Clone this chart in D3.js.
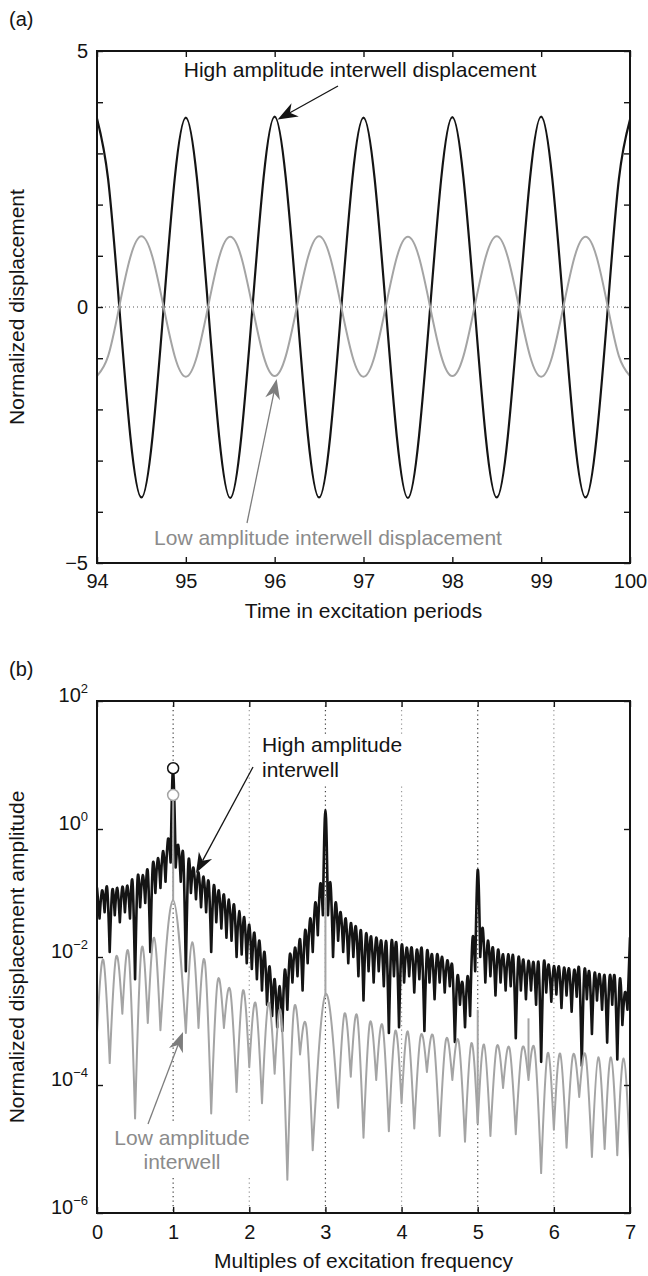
<!DOCTYPE html>
<html>
<head>
<meta charset="utf-8">
<script src="https://cdn.jsdelivr.net/npm/d3@7"></script>
<style>
  body { margin: 0; background: #fff; }
  svg { font-family: "Liberation Sans", Arial, Helvetica, sans-serif; }
</style>
</head>
<body>
<div id="chart"></div>
<script>
// ---------- panel (a): time histories ----------
const timeTicks = [94, 95, 96, 97, 98, 99, 100];
const dispTicks = [-5, -4, -3, -2, -1, 0, 1, 2, 3, 4, 5];
const dispLabelled = [-5, 0, 5];

const timeSamples = [
  94, 94.125, 94.25, 94.375, 94.5, 94.625, 94.75, 94.875,
  95, 95.125, 95.25, 95.375, 95.5, 95.625, 95.75, 95.875,
  96, 96.125, 96.25, 96.375, 96.5, 96.625, 96.75, 96.875,
  97, 97.125, 97.25, 97.375, 97.5, 97.625, 97.75, 97.875,
  98, 98.125, 98.25, 98.375, 98.5, 98.625, 98.75, 98.875,
  99, 99.125, 99.25, 99.375, 99.5, 99.625, 99.75, 99.875,
  100
];
const highDisp = [
  3.68, 2.50, 0.02, -2.52, -3.72, -2.53, -0.02, 2.51,
  3.70, 2.51, 0.01, -2.53, -3.73, -2.52, -0.01, 2.52,
  3.72, 2.52, 0.02, -2.52, -3.72, -2.53, -0.02, 2.51,
  3.70, 2.51, 0.01, -2.53, -3.73, -2.52, -0.02, 2.51,
  3.71, 2.52, 0.02, -2.52, -3.72, -2.52, -0.01, 2.52,
  3.72, 2.51, 0.01, -2.53, -3.72, -2.53, -0.02, 2.50,
  3.66
];
const lowDisp = [
  -1.35, -0.96, 0.00, 0.97, 1.38, 0.97, 0.00, -0.96,
  -1.36, -0.96, 0.00, 0.97, 1.37, 0.97, 0.00, -0.96,
  -1.35, -0.96, 0.00, 0.97, 1.38, 0.97, 0.00, -0.96,
  -1.36, -0.96, 0.00, 0.97, 1.37, 0.97, 0.00, -0.96,
  -1.35, -0.96, 0.00, 0.97, 1.38, 0.97, 0.00, -0.96,
  -1.36, -0.96, 0.00, 0.97, 1.37, 0.97, 0.00, -0.96,
  -1.35
];

// ---------- panel (b): spectra ----------
const freqTicks = [0, 1, 2, 3, 4, 5, 6, 7];
const freqGrid = [1, 2, 3, 4, 5, 6];
const ampExponents = [2, 0, -2, -4, -6];

// high amplitude spectrum: lobe peaks at bins of 1/15, nulls half-way between
const highBin = 1 / 15;
const highPeaks = [
  0.12, 0.11, 0.12, 0.11, 0.12, 0.125, 0.13, 0.15, 0.17, 0.19,
  0.22, 0.28, 0.35, 0.45, 0.7, 8.9, 0.56, 0.38, 0.30, 0.25,
  0.21, 0.18, 0.15, 0.13, 0.11, 0.095, 0.079, 0.066, 0.052, 0.042,
  0.032, 0.024, 0.018, 0.012, 0.0071, 0.0045, 0.0035, 0.0063, 0.011, 0.014,
  0.019, 0.026, 0.04, 0.071, 0.14, 2.0, 0.14, 0.071, 0.05, 0.04,
  0.034, 0.03, 0.026, 0.023, 0.021, 0.02, 0.018, 0.017, 0.017, 0.016,
  0.015, 0.014, 0.014, 0.013, 0.013, 0.012, 0.011, 0.011, 0.010, 0.0089,
  0.0071, 0.005, 0.004, 0.005, 0.02, 0.23, 0.028, 0.018, 0.014, 0.013,
  0.011, 0.011, 0.010, 0.0095, 0.0091, 0.0087, 0.0083, 0.0079, 0.0078, 0.0076,
  0.0072, 0.0071, 0.0068, 0.0066, 0.0063, 0.0062, 0.0059, 0.0058, 0.0055, 0.0054,
  0.0051, 0.005, 0.0048, 0.0045, 0.0028, 0.02
];
const highNulls = [
  0.04, 0.05, 0.012, 0.045, 0.035, 0.05, 0.04, 0.0045, 0.06, 0.07,
  0.012, 0.1, 0.12, 0.15, 0.3, 0.25, 0.15, 0.006, 0.1, 0.08,
  0.06, 0.05, 0.012, 0.035, 0.028, 0.02, 0.018, 0.01, 0.011, 0.008,
  0.0065, 0.0045, 0.003, 0.0018, 0.0012, 0.0008, 0.0007, 0.0015, 0.004, 0.005,
  0.003, 0.008, 0.012, 0.022, 0.045, 0.045, 0.01, 0.018, 0.012, 0.008,
  0.01, 0.005, 0.0021, 0.006, 0.004, 0.006, 0.0035, 0.00065, 0.005, 0.0008,
  0.004, 0.005, 0.0028, 0.0045, 0.0007, 0.004, 0.0022, 0.004, 0.0028, 0.0035,
  0.00047, 0.0018, 0.0008, 0.0012, 0.006, 0.01, 0.004, 0.005, 0.0025, 0.004,
  0.003, 0.0035, 0.00054, 0.003, 0.0022, 0.003, 0.0018, 0.00023, 0.0028, 0.002,
  0.0026, 0.0016, 0.0025, 0.0014, 0.0024, 0.0002, 0.0022, 0.00063, 0.0021, 0.0015,
  0.00046, 0.0018, 0.00025, 0.00087, 0.0015
];

// low amplitude spectrum: nulls and the lobe peaks between them
const lowNullFreq = [
  0, 0.167, 0.333, 0.5, 0.667, 0.833, 1.167, 1.333, 1.5, 1.667,
  1.833, 2, 2.167, 2.333, 2.5, 2.667, 2.833, 3.167, 3.333, 3.5,
  3.667, 3.833, 4, 4.167, 4.333, 4.5, 4.667, 4.833, 5, 5.167,
  5.333, 5.5, 5.667, 5.833, 6, 6.167, 6.333, 6.5, 6.667, 6.833, 7
];
const lowNulls = [
  6.5e-4, 2.2e-4, 1.3e-3, 3e-5, 9.3e-4, 7.2e-4, 6.5e-4, 7.8e-4, 3.6e-5, 7.8e-4,
  7.8e-5, 1.9e-4, 5.2e-5, 1.5e-4, 3.3e-6, 3e-4, 9.6e-6, 4.4e-5, 1.35e-4, 1.5e-5,
  1.2e-4, 1.9e-5, 5.2e-5, 2.1e-5, 1.6e-4, 1.6e-5, 1.2e-4, 1.3e-5, 2.5e-5, 1.6e-5,
  9e-5, 1.7e-5, 1.2e-4, 4.2e-6, 2e-5, 1.05e-5, 6.5e-5, 7.5e-6, 1e-5, 8e-6, 6.8e-6
];
const lowPeakFreq = [
  0.083, 0.25, 0.417, 0.583, 0.75, 1, 1.25, 1.417, 1.583, 1.75,
  1.917, 2.083, 2.25, 2.417, 2.583, 2.75, 3, 3.25, 3.417, 3.583,
  3.75, 3.917, 4.083, 4.25, 4.417, 4.583, 4.75, 4.917, 5.083, 5.25,
  5.417, 5.583, 5.75, 5.917, 6.083, 6.25, 6.417, 6.583, 6.75, 6.917
];
const lowPeaks = [
  9e-3, 1.0e-2, 1.1e-2, 1.3e-2, 2.0e-2, 7.7e-2, 1.7e-2, 8.4e-3, 4.1e-3, 3e-3,
  3e-3, 1.9e-3, 1.9e-3, 1.3e-3, 1.4e-3, 8e-4, 2.6e-3, 1.3e-3, 1.2e-3, 9.3e-4,
  8.5e-4, 7e-4, 6.8e-4, 5.8e-4, 5.6e-4, 5.1e-4, 4.8e-4, 4.5e-4, 4.3e-4, 4e-4,
  3.8e-4, 3.7e-4, 3.4e-4, 3.1e-4, 3.1e-4, 2.9e-4, 2.9e-4, 2.7e-4, 2.7e-4, 2.6e-4
];
// narrow spectral lines on the low amplitude spectrum
const lowLineFreq = [1, 3, 5, 5.667, 7];
const lowLineTop = [3.4, 0.086, 1.5e-3, 1.1e-3, 3.7e-4];
const lowLineBottom = [7.7e-2, 2.6e-3, 2.5e-5, 1.5e-4, 6.8e-6];

// harmonic amplitude markers at the excitation frequency
const markerFreq = 1;
const highMarker = 8.9;
const lowMarker = 3.4;

// ---------- drawing ----------
const W = 648, H = 1276;
const black = '#141414', gray = '#a4a4a4', grayText = '#8b8b8b', grayArrow = '#7d7d7d';

const svg = d3.select('#chart').append('svg')
  .attr('width', W).attr('height', H);

function styleAxis(g, size) {
  g.attr('font-size', size).attr('font-family', null);
  g.select('.domain').remove();
  g.selectAll('.tick line').attr('stroke', black).attr('stroke-width', 1.4);
  g.selectAll('.tick text').attr('fill', black);
}

// arrow with a filled, notched head
function arrow(g, x1, y1, x2, y2, color, len, half) {
  const ang = Math.atan2(y2 - y1, x2 - x1);
  const c = Math.cos(ang), s = Math.sin(ang);
  const bx = x2 - len * c, by = y2 - len * s;
  const nx = x2 - len * 0.7 * c, ny = y2 - len * 0.7 * s;
  g.append('line')
    .attr('x1', x1).attr('y1', y1).attr('x2', nx).attr('y2', ny)
    .attr('stroke', color).attr('stroke-width', 1.3);
  g.append('path')
    .attr('d', `M${x2},${y2}L${bx - half * s},${by + half * c}L${nx},${ny}L${bx + half * s},${by - half * c}Z`)
    .attr('fill', color);
}

// ---- panel (a)
const A = { left: 97, right: 630, top: 51, bottom: 563 };
const xa = d3.scaleLinear().domain([94, 100]).range([A.left, A.right]);
const ya = d3.scaleLinear().domain([-5, 5]).range([A.bottom, A.top]);

svg.append('text').attr('x', 9).attr('y', 26).attr('font-size', 20).attr('fill', black).text('(a)');

svg.append('clipPath').attr('id', 'clipA').append('rect')
  .attr('x', A.left).attr('y', A.top).attr('width', A.right - A.left).attr('height', A.bottom - A.top);

svg.append('line')
  .attr('x1', A.left).attr('x2', A.right).attr('y1', ya(0)).attr('y2', ya(0))
  .attr('stroke', '#555').attr('stroke-width', 1).attr('stroke-dasharray', '1,3');

const lineA = d3.line()
  .x((d, i) => xa(timeSamples[i]))
  .y(d => ya(d))
  .curve(d3.curveNatural);

const curvesA = svg.append('g').attr('clip-path', 'url(#clipA)');
curvesA.append('path').attr('d', lineA(highDisp))
  .attr('fill', 'none').attr('stroke', black).attr('stroke-width', 2.2);
curvesA.append('path').attr('d', lineA(lowDisp))
  .attr('fill', 'none').attr('stroke', gray).attr('stroke-width', 2);

svg.append('g').attr('transform', `translate(0,${A.bottom})`)
  .call(d3.axisBottom(xa).tickValues(timeTicks).tickSize(-6).tickPadding(11).tickFormat(d3.format('d')))
  .call(g => styleAxis(g, 20));
svg.append('g').attr('transform', `translate(0,${A.top})`)
  .call(d3.axisTop(xa).tickValues(timeTicks).tickSize(-6).tickFormat(''))
  .call(g => styleAxis(g, 20));
svg.append('g').attr('transform', `translate(${A.left},0)`)
  .call(d3.axisLeft(ya).tickValues(dispTicks).tickSize(-6).tickPadding(9)
    .tickFormat(d => dispLabelled.includes(d) ? d3.format('d')(d) : ''))
  .call(g => styleAxis(g, 20));
svg.append('g').attr('transform', `translate(${A.right},0)`)
  .call(d3.axisRight(ya).tickValues(dispTicks).tickSize(-6).tickFormat(''))
  .call(g => styleAxis(g, 20));

svg.append('rect')
  .attr('x', A.left).attr('y', A.top).attr('width', A.right - A.left).attr('height', A.bottom - A.top)
  .attr('fill', 'none').attr('stroke', black).attr('stroke-width', 2);

svg.append('text').attr('x', (A.left + A.right) / 2).attr('y', 618)
  .attr('text-anchor', 'middle').attr('font-size', 21).attr('fill', black)
  .text('Time in excitation periods');
svg.append('text').attr('transform', `translate(24,${(A.top + A.bottom) / 2}) rotate(-90)`)
  .attr('text-anchor', 'middle').attr('font-size', 21).attr('fill', black)
  .text('Normalized displacement');

const noteA = svg.append('g');
noteA.append('text').attr('x', 360).attr('y', 77).attr('text-anchor', 'middle')
  .attr('font-size', 21).attr('fill', black).text('High amplitude interwell displacement');
arrow(noteA, 338, 86, xa(96) + 3, ya(3.7) + 2, black, 20, 7.5);
noteA.append('text').attr('x', 328).attr('y', 545).attr('text-anchor', 'middle')
  .attr('font-size', 21).attr('fill', grayText).text('Low amplitude interwell displacement');
arrow(noteA, 247, 523, xa(96) + 2, ya(-1.35) + 3, grayArrow, 20, 7.5);

// ---- panel (b)
const B = { left: 97, right: 630, top: 701, bottom: 1213 };
const xb = d3.scaleLinear().domain([0, 7]).range([B.left, B.right]);
const yb = d3.scaleLog().domain([1e-6, 1e2]).range([B.bottom, B.top]);

svg.append('text').attr('x', 9).attr('y', 676).attr('font-size', 20).attr('fill', black).text('(b)');

svg.append('clipPath').attr('id', 'clipB').append('rect')
  .attr('x', B.left).attr('y', B.top).attr('width', B.right - B.left).attr('height', B.bottom - B.top);

svg.append('g').selectAll('line').data(freqGrid).join('line')
  .attr('x1', d => xb(d)).attr('x2', d => xb(d)).attr('y1', B.top).attr('y2', B.bottom)
  .attr('stroke', d => d % 2 === 1 ? '#444' : '#9a9a9a')
  .attr('stroke-width', 1.2).attr('stroke-dasharray', '1.2,3.3');

const arch = d3.line().x(d => xb(d[0])).y(d => yb(d[1])).curve(d3.curveNatural);
const straight = d3.line().x(d => xb(d[0])).y(d => yb(d[1]));

// high amplitude: one arch per lobe, peak at bin k, nulls half a bin either side
let highD = '';
highPeaks.forEach((p, k) => {
  const pts = [];
  if (k > 0) pts.push([(k - 0.5) * highBin, highNulls[k - 1]]);
  pts.push([k * highBin, p]);
  if (k < highNulls.length) pts.push([(k + 0.5) * highBin, highNulls[k]]);
  highD += (pts.length === 3 ? arch : straight)(pts);
});

let lowD = '';
lowPeaks.forEach((p, i) => {
  lowD += arch([[lowNullFreq[i], lowNulls[i]], [lowPeakFreq[i], p], [lowNullFreq[i + 1], lowNulls[i + 1]]]);
});

const curvesB = svg.append('g').attr('clip-path', 'url(#clipB)');
curvesB.append('path').attr('d', highD)
  .attr('fill', 'none').attr('stroke', black).attr('stroke-width', 2.6)
  .attr('stroke-linejoin', 'round').attr('stroke-linecap', 'round');
curvesB.append('path').attr('d', lowD)
  .attr('fill', 'none').attr('stroke', gray).attr('stroke-width', 2)
  .attr('stroke-linejoin', 'round').attr('stroke-linecap', 'round');
curvesB.append('g').selectAll('line').data(lowLineFreq).join('line')
  .attr('x1', d => xb(d)).attr('x2', d => xb(d))
  .attr('y1', (d, i) => yb(lowLineTop[i])).attr('y2', (d, i) => yb(lowLineBottom[i]))
  .attr('stroke', gray).attr('stroke-width', 2);

svg.append('circle').attr('cx', xb(markerFreq)).attr('cy', yb(highMarker)).attr('r', 5.5)
  .attr('fill', '#fff').attr('stroke', black).attr('stroke-width', 1.5);
svg.append('circle').attr('cx', xb(markerFreq)).attr('cy', yb(lowMarker)).attr('r', 5.5)
  .attr('fill', '#fff').attr('stroke', gray).attr('stroke-width', 1.5);

svg.append('g').attr('transform', `translate(0,${B.bottom})`)
  .call(d3.axisBottom(xb).tickValues(freqTicks).tickSize(-6).tickPadding(12).tickFormat(d3.format('d')))
  .call(g => styleAxis(g, 20));
svg.append('g').attr('transform', `translate(0,${B.top})`)
  .call(d3.axisTop(xb).tickValues(freqTicks).tickSize(-6).tickFormat(''))
  .call(g => styleAxis(g, 20));
const ampTicks = ampExponents.map(e => Math.pow(10, e));
svg.append('g').attr('transform', `translate(${B.left},0)`)
  .call(d3.axisLeft(yb).tickValues(ampTicks).tickSize(-6).tickFormat(''))
  .call(g => styleAxis(g, 20));
svg.append('g').attr('transform', `translate(${B.right},0)`)
  .call(d3.axisRight(yb).tickValues(ampTicks).tickSize(-6).tickFormat(''))
  .call(g => styleAxis(g, 20));

// decade labels 10^n
const decade = svg.append('g').selectAll('text').data(ampExponents).join('text')
  .attr('x', B.left - 9).attr('y', d => yb(Math.pow(10, d)) + 1)
  .attr('text-anchor', 'end').attr('font-size', 20).attr('fill', black);
decade.append('tspan').text('10');
decade.append('tspan').attr('dy', -9).attr('font-size', 13)
  .text(d => d < 0 ? '\u2212' + Math.abs(d) : String(d));

svg.append('rect')
  .attr('x', B.left).attr('y', B.top).attr('width', B.right - B.left).attr('height', B.bottom - B.top)
  .attr('fill', 'none').attr('stroke', black).attr('stroke-width', 2);

svg.append('text').attr('x', (B.left + B.right) / 2).attr('y', 1268)
  .attr('text-anchor', 'middle').attr('font-size', 21).attr('fill', black)
  .text('Multiples of excitation frequency');
svg.append('text').attr('transform', `translate(24,${(B.top + B.bottom) / 2}) rotate(-90)`)
  .attr('text-anchor', 'middle').attr('font-size', 21).attr('fill', black)
  .text('Normalized displacement amplitude');

const noteB = svg.append('g');
noteB.append('rect').attr('x', 259).attr('y', 734).attr('width', 146).attr('height', 50).attr('fill', '#fff');
noteB.append('text').attr('x', 262).attr('y', 752).attr('font-size', 21).attr('fill', black).text('High amplitude');
noteB.append('text').attr('x', 262).attr('y', 777).attr('font-size', 21).attr('fill', black).text('interwell');
arrow(noteB, 253, 767, 196, 873, black, 20, 7.5);

noteB.append('rect').attr('x', 113).attr('y', 1124).attr('width', 138).attr('height', 52).attr('fill', '#fff');
noteB.append('text').attr('x', 182).attr('y', 1145).attr('text-anchor', 'middle')
  .attr('font-size', 21).attr('fill', grayText).text('Low amplitude');
noteB.append('text').attr('x', 182).attr('y', 1169).attr('text-anchor', 'middle')
  .attr('font-size', 21).attr('fill', grayText).text('interwell');
arrow(noteB, 148, 1124, 183, 1032, grayArrow, 20, 7.5);
</script>
</body>
</html>
